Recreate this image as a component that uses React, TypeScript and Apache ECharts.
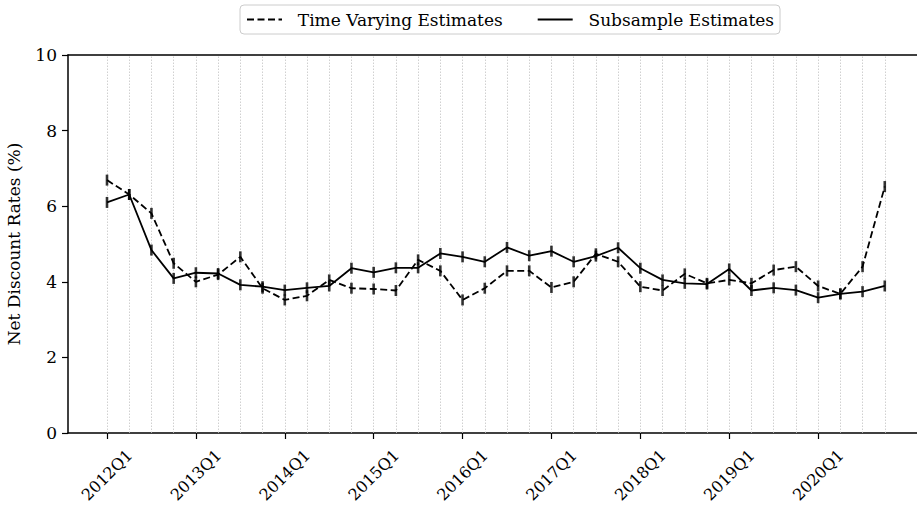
import React, { useEffect, useRef } from "react";
import * as echarts from "echarts";

// Quarterly periods on the horizontal axis
const QUARTERS = [
  "2012Q1", "2012Q2", "2012Q3", "2012Q4",
  "2013Q1", "2013Q2", "2013Q3", "2013Q4",
  "2014Q1", "2014Q2", "2014Q3", "2014Q4",
  "2015Q1", "2015Q2", "2015Q3", "2015Q4",
  "2016Q1", "2016Q2", "2016Q3", "2016Q4",
  "2017Q1", "2017Q2", "2017Q3", "2017Q4",
  "2018Q1", "2018Q2", "2018Q3", "2018Q4",
  "2019Q1", "2019Q2", "2019Q3", "2019Q4",
  "2020Q1", "2020Q2", "2020Q3", "2020Q4",
];

// Positions (quarter index) that carry a tick label
const LABEL_TICKS = [0, 4, 8, 12, 16, 20, 24, 28, 32];

// Net discount rates (%)
const TIME_VARYING = [
  6.69, 6.31, 5.81, 4.49,
  4.0, 4.19, 4.66, 3.83,
  3.52, 3.63, 4.05, 3.83,
  3.81, 3.77, 4.58, 4.29,
  3.52, 3.83, 4.29, 4.29,
  3.85, 4.0, 4.74, 4.53,
  3.87, 3.77, 4.21, 3.96,
  4.05, 3.96, 4.31, 4.4,
  3.89, 3.68, 4.4, 6.52,
];

const SUBSAMPLE = [
  6.1, 6.31, 4.84, 4.09,
  4.24, 4.22, 3.92, 3.87,
  3.78, 3.84, 3.89, 4.36,
  4.25, 4.37, 4.37, 4.75,
  4.66, 4.53, 4.91, 4.69,
  4.81, 4.53, 4.68, 4.9,
  4.36, 4.05, 3.96, 3.94,
  4.34, 3.77, 3.84, 3.78,
  3.58, 3.68, 3.74, 3.89,
];

const Y_TICKS = [0, 2, 4, 6, 8, 10];

const SERIES_TV = "Time Varying Estimates";
const SERIES_SUB = "Subsample Estimates";

const FONT = "DejaVu Serif";
const FONT_SIZE = 17;

export default function App() {
  const ref = useRef<HTMLDivElement>(null);

  useEffect(() => {
    if (!ref.current) return;
    const chart = echarts.init(ref.current, undefined, { renderer: "svg" });

    const tvData = TIME_VARYING.map((v, i) => [i, v]);
    const subData = SUBSAMPLE.map((v, i) => [i, v]);

    const xMin = -1.755;
    const xMax = 36.45;

    chart.setOption({
      animation: false,
      backgroundColor: "#ffffff",
      textStyle: { fontFamily: FONT },
      legend: {
        data: [SERIES_TV, SERIES_SUB],
        top: 5,
        left: 240,
        itemWidth: 35,
        itemHeight: 12,
        itemGap: 34,
        padding: [6, 6, 6, 6],
        borderColor: "#cccccc",
        borderWidth: 1,
        borderRadius: 4,
        backgroundColor: "#ffffff",
        itemStyle: { opacity: 0 },
        formatter: (name: string) => "  " + name,
        textStyle: { fontFamily: FONT, fontSize: FONT_SIZE, color: "#000" },
      },
      grid: {
        left: 68,
        top: 55,
        bottom: 73,
        right: 0,
        containLabel: false,
        outerBoundsMode: "none",
      },
      xAxis: [
        {
          type: "value",
          min: xMin,
          max: xMax,
          position: "bottom",
          axisLine: { show: true, onZero: false, lineStyle: { color: "#000", width: 1.5 } },
          axisTick: {
            show: true,
            customValues: LABEL_TICKS,
            length: 6,
            lineStyle: { color: "#000", width: 1.2 },
          },
          axisLabel: {
            customValues: LABEL_TICKS,
            rotate: 45,
            align: "center",
            verticalAlign: "middle",
            margin: 42,
            fontFamily: FONT,
            fontSize: 16,
            color: "#000",
            formatter: (v: number) => QUARTERS[Math.round(v)] ?? "",
          },
          splitLine: { show: false },
        },
        {
          type: "value",
          min: xMin,
          max: xMax,
          position: "top",
          axisLine: { show: true, onZero: false, lineStyle: { color: "#000", width: 1.5 } },
          axisTick: { show: false },
          axisLabel: { show: false },
          splitLine: { show: false },
        },
      ],
      yAxis: {
        type: "value",
        min: Y_TICKS[0],
        max: Y_TICKS[Y_TICKS.length - 1],
        interval: 2,
        name: "Net Discount Rates (%)",
        nameLocation: "middle",
        nameRotate: 90,
        nameGap: 46,
        nameTextStyle: { fontFamily: FONT, fontSize: FONT_SIZE, color: "#000" },
        axisLine: { show: true, onZero: false, lineStyle: { color: "#000", width: 1.5 } },
        axisTick: { show: true, length: 6, lineStyle: { color: "#000", width: 1.2 } },
        axisLabel: { fontFamily: FONT, fontSize: FONT_SIZE, color: "#000", margin: 11 },
        splitLine: { show: false },
      },
      series: [
        {
          name: SERIES_TV,
          type: "line",
          data: tvData,
          symbol: "none",
          z: 3,
          lineStyle: { color: "#000", width: 1.8, type: [7, 3.5] },
          itemStyle: { color: "#000" },
          markLine: {
            silent: true,
            symbol: "none",
            label: { show: false },
            z: 1,
            lineStyle: { color: "#c4c4c4", width: 0.8, type: [1.5, 1.5] },
            data: QUARTERS.map((_, i) => ({ xAxis: i })),
          },
        },
        {
          name: SERIES_SUB,
          type: "line",
          data: subData,
          symbol: "none",
          z: 3,
          lineStyle: { color: "#000", width: 1.8, type: "solid" },
          itemStyle: { color: "#000" },
        },
        {
          name: "tv-bars",
          type: "scatter",
          data: tvData,
          symbol: "rect",
          symbolSize: [2.6, 11],
          z: 4,
          itemStyle: { color: "#000" },
        },
        {
          name: "sub-bars",
          type: "scatter",
          data: subData,
          symbol: "rect",
          symbolSize: [2.6, 11],
          z: 4,
          itemStyle: { color: "#000" },
        },
      ],
    });

    return () => chart.dispose();
  }, []);

  return (
    <div
      ref={ref}
      style={{ position: "fixed", left: 0, top: 0, width: 917, height: 506, background: "#fff" }}
    />
  );
}
